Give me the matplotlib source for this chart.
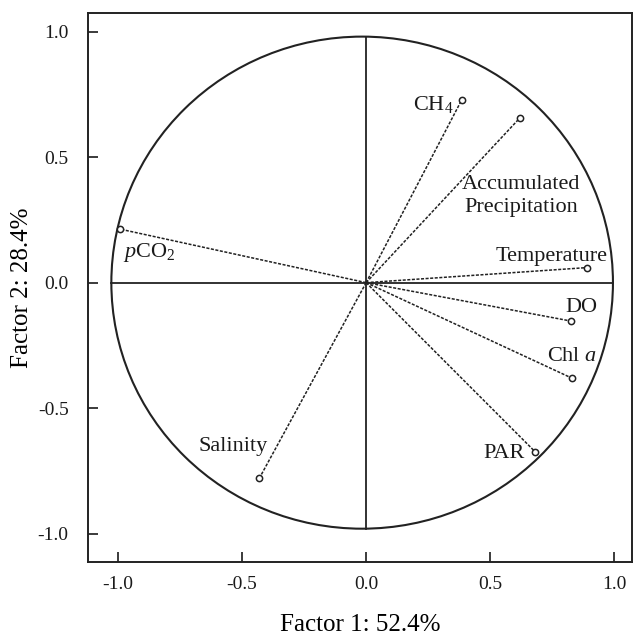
import numpy as np
import matplotlib
matplotlib.use("Agg")
import matplotlib.pyplot as plt
from matplotlib.patches import Ellipse

plt.rcParams['font.family'] = ['Liberation Serif', 'DejaVu Serif']
plt.rcParams['mathtext.fontset'] = 'custom'
plt.rcParams['mathtext.rm'] = 'Liberation Serif'
plt.rcParams['mathtext.it'] = 'Liberation Serif:italic'

# loadings
variables = ['pCO2', 'CH4', 'Accumulated Precipitation', 'Temperature', 'DO', 'Chl a', 'PAR', 'Salinity']
factor1 = [-0.99, 0.385, 0.62, 0.89, 0.825, 0.83, 0.68, -0.43]
factor2 = [0.213, 0.728, 0.657, 0.06, -0.153, -0.381, -0.673, -0.779]

labels = [r'$\mathit{p}\mathrm{CO_2}$', r'CH$_4$', 'Accumulated\nPrecipitation', 'Temperature',
          'DO', r'Chl $\mathit{a}$', 'PAR', 'Salinity']
label_x = [-0.875, 0.27, 0.625, 0.745, 0.867, 0.83, 0.557, -0.535]
label_y = [0.12, 0.71, 0.345, 0.106, -0.10, -0.295, -0.68, -0.653]

xticks = [-1.0, -0.5, 0.0, 0.5, 1.0]
yticks = [-1.0, -0.5, 0.0, 0.5, 1.0]

fig = plt.figure(figsize=(6.35, 6.38), dpi=100)
ax = fig.add_axes([0.1386, 0.119, 0.8564, 0.8606])

col = '#222222'
# unit circle and cross-hairs
ax.add_patch(Ellipse((-0.016, 0), 2.02, 1.96, fill=False, ec=col, lw=1.5))
ax.plot([-1.026, 0.994], [0, 0], color=col, lw=1.3)
ax.plot([0, 0], [-0.98, 0.98], color=col, lw=1.3)

for i in range(len(variables)):
    ax.plot([0, factor1[i]], [0, factor2[i]], color=col, lw=1.1, ls=(0, (2, 1)))
    ax.plot(factor1[i], factor2[i], 'o', mfc='white', mec=col, ms=4.5, mew=1.1)
    ax.text(label_x[i], label_y[i], labels[i], fontsize=16, ha='center', va='center',
            linespacing=1.3, color='#1a1a1a')

ax.set_xlim(-1.12, 1.07)
ax.set_ylim(-1.113, 1.074)
ax.set_xticks(xticks)
ax.set_yticks(yticks)
ax.set_xticklabels(['%.1f' % v for v in xticks])
ax.set_yticklabels(['%.1f' % v for v in yticks])
ax.tick_params(direction='in', length=7, width=1.2, labelsize=14, colors='#1a1a1a')
ax.tick_params(axis='y', pad=14)
ax.tick_params(axis='x', pad=10)
for s in ax.spines.values():
    s.set_linewidth(1.4)
    s.set_color(col)

ax.set_xlabel('Factor 1: 52.4%', fontsize=18, labelpad=15)
ax.set_ylabel('Factor 2: 28.4%', fontsize=18, labelpad=3)

fig.savefig('out.png', dpi=100)
